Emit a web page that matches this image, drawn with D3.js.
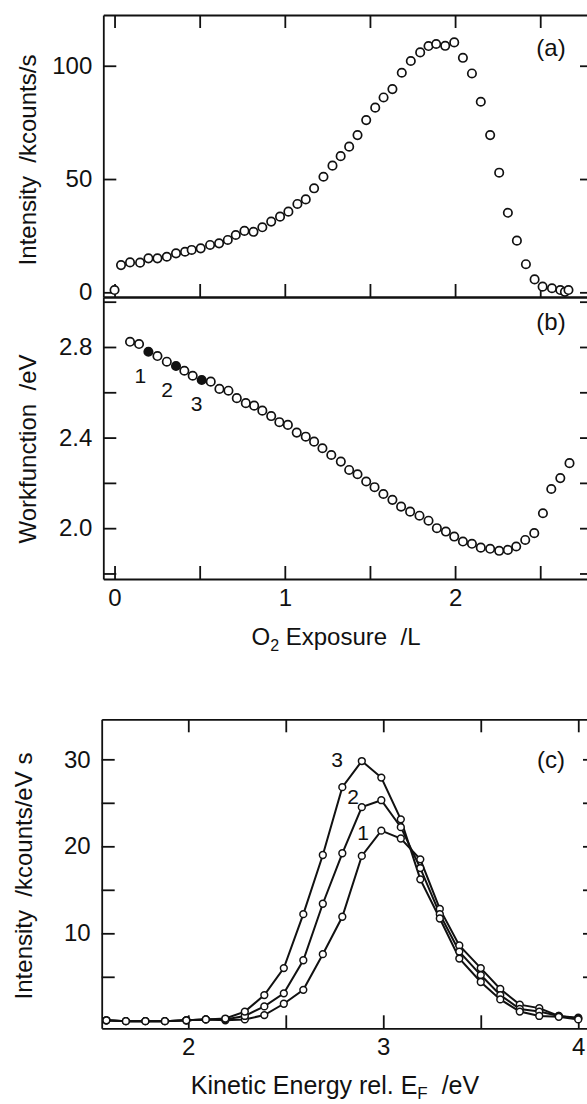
<!DOCTYPE html>
<html>
<head>
<meta charset="utf-8">
<script src="https://cdn.jsdelivr.net/npm/d3@7"></script>
<style>
    body { margin: 0; background: #fff; }
    svg { display: block; font-family: "Liberation Sans", Arial, Helvetica, sans-serif; }
    .axis path, .axis line { stroke: #111; stroke-width: 1.8; }
    .axis text { font-size: 24px; fill: #111; }
    .title { font-size: 24px; fill: #111; white-space: pre; }
    .tag { font-size: 24px; fill: #111; }
    .num { font-size: 21px; fill: #111; }
</style>
</head>
<body>
<div id="chart"></div>
<script>
// panel (a): photoemission intensity vs O2 exposure
const exposureA = [0.00, 0.038, 0.091, 0.150, 0.199, 0.252, 0.307, 0.361, 0.414, 0.453,
    0.506, 0.561, 0.614, 0.665, 0.712, 0.763, 0.816, 0.868, 0.920, 0.972,
    1.021, 1.074, 1.123, 1.172, 1.227, 1.280, 1.328, 1.378, 1.427, 1.478,
    1.531, 1.580, 1.632, 1.687, 1.740, 1.795, 1.844, 1.889, 1.942, 1.995,
    2.046, 2.099, 2.151, 2.206, 2.259, 2.310, 2.363, 2.416, 2.467, 2.514,
    2.569, 2.618, 2.645, 2.666];
const intensityA = [1.0, 12.0, 13.2, 13.1, 15.0, 15.0, 15.7, 17.2, 17.9, 18.7,
    19.4, 20.9, 21.6, 23.1, 25.3, 27.1, 26.7, 28.7, 31.2, 33.4,
    35.6, 39.0, 41.0, 45.9, 51.0, 55.9, 60.1, 64.3, 69.4, 76.0,
    81.5, 86.0, 89.7, 96.9, 102.1, 105.9, 108.7, 109.6, 108.8, 110.3,
    103.5, 96.6, 84.1, 69.4, 52.8, 35.1, 22.8, 12.4, 5.7, 2.5,
    1.8, 1.0, 0.2, 1.0];

// panel (b): workfunction vs O2 exposure
const exposureB = [0.091, 0.144, 0.199, 0.252, 0.307, 0.361, 0.410, 0.459, 0.512, 0.565,
    0.616, 0.669, 0.718, 0.771, 0.820, 0.868, 0.920, 0.968, 1.018, 1.070,
    1.123, 1.172, 1.221, 1.273, 1.329, 1.378, 1.427, 1.478, 1.527, 1.579,
    1.632, 1.683, 1.736, 1.791, 1.844, 1.893, 1.946, 1.995, 2.046, 2.099,
    2.151, 2.206, 2.259, 2.310, 2.359, 2.412, 2.465, 2.516, 2.565, 2.618,
    2.672];
const workfunctionB = [2.823, 2.813, 2.779, 2.760, 2.735, 2.716, 2.695, 2.673, 2.654, 2.647,
    2.615, 2.607, 2.574, 2.552, 2.541, 2.519, 2.495, 2.468, 2.456, 2.422,
    2.404, 2.382, 2.353, 2.323, 2.294, 2.257, 2.238, 2.206, 2.181, 2.151,
    2.125, 2.095, 2.073, 2.055, 2.033, 2.000, 1.985, 1.963, 1.941, 1.931,
    1.914, 1.909, 1.900, 1.904, 1.919, 1.948, 1.978, 2.066, 2.173, 2.221,
    2.287];
const markedIndex = [2, 5, 8];
const markedLabels = ["1", "2", "3"];

// panel (c): spectra taken at the marked exposures
const kineticEnergy = [1.58, 1.68, 1.78, 1.88, 1.99, 2.09, 2.19, 2.29, 2.39, 2.49,
    2.59, 2.69, 2.79, 2.89, 2.99, 3.09, 3.19, 3.29, 3.39, 3.50,
    3.60, 3.70, 3.80, 3.90, 4.00];
const spectrum1 = [0.0, -0.1, -0.1, -0.1, 0.0, 0.1, 0.0, 0.1, 0.6, 1.9,
    3.5, 7.6, 11.9, 18.9, 21.8, 20.9, 18.5, 12.8, 8.6, 6.0,
    3.6, 1.8, 1.4, 0.5, 0.3];
const spectrum2 = [0.0, -0.1, -0.1, -0.1, 0.0, 0.1, 0.1, 0.5, 1.6, 3.1,
    6.9, 13.4, 19.2, 24.5, 25.3, 22.2, 17.5, 12.2, 7.9, 5.2,
    2.9, 1.3, 1.0, 0.5, 0.2];
const spectrum3 = [0.0, -0.1, -0.1, -0.1, 0.0, 0.1, 0.2, 1.0, 2.9, 6.0,
    12.2, 19.0, 26.8, 29.8, 27.9, 23.1, 16.2, 11.7, 7.1, 4.4,
    2.4, 1.0, 0.5, 0.4, 0.1];
const spectrumLabels = ["1", "2", "3"];

const svg = d3.select("#chart").append("svg")
    .attr("width", 587)
    .attr("height", 1104);

const TICK = 13;

// draws the four sides of a panel with inward ticks
function frame(x, y, opt) {
    let [x0, x1] = x.range();
    let [y0, y1] = y.range(); // y0 bottom, y1 top

    let top = d3.axisTop(x).tickValues(opt.topTicks || []).tickSize(-TICK).tickSizeOuter(0).tickFormat("");
    svg.append("g").attr("class", "axis")
        .attr("transform", "translate(0," + y1 + ")").call(top);

    let bottom = d3.axisBottom(x).tickValues(opt.bottomTicks || []).tickSize(-TICK).tickSizeOuter(0)
        .tickPadding(10)
        .tickFormat(d => (opt.bottomLabels || []).includes(d) ? d : "");
    svg.append("g").attr("class", "axis")
        .attr("transform", "translate(0," + y0 + ")").call(bottom);

    let left = d3.axisLeft(y).tickValues(opt.leftTicks).tickSize(-TICK).tickSizeOuter(0)
        .tickPadding(11)
        .tickFormat(d => opt.leftLabels.some(v => Math.abs(v - d) < 1e-6) ? opt.fmt(d) : "");
    svg.append("g").attr("class", "axis")
        .attr("transform", "translate(" + x0 + ",0)").call(left);

    let right = d3.axisRight(y).tickValues(opt.leftTicks).tickSize(-TICK).tickSizeOuter(0).tickFormat("");
    svg.append("g").attr("class", "axis")
        .attr("transform", "translate(" + x1 + ",0)").call(right);
}

// ---- panel (a)
let xA = d3.scaleLinear().domain([-0.066, 2.81]).range([103.3, 593]);
let yA = d3.scaleLinear().domain([-2.07, 122.4]).range([297, 15]);

frame(xA, yA, {
    topTicks: [0, 0.5, 1, 1.5, 2, 2.5],
    bottomTicks: [0, 0.5, 1, 1.5, 2, 2.5],
    leftTicks: [0, 50, 100],
    leftLabels: [0, 50, 100],
    fmt: d => d
});

svg.append("g").selectAll("circle")
    .data(exposureA.map((e, i) => [e, intensityA[i]]))
    .join("circle")
    .attr("cx", d => xA(d[0]))
    .attr("cy", d => yA(d[1]))
    .attr("r", 4.2)
    .attr("fill", "#fff")
    .attr("stroke", "#111")
    .attr("stroke-width", 1.7);

svg.append("text").attr("class", "tag")
    .attr("x", 551).attr("y", 56).attr("text-anchor", "middle").text("(a)");

svg.append("text").attr("class", "title")
    .attr("transform", "translate(36,160) rotate(-90)")
    .attr("text-anchor", "middle")
    .text("Intensity  /kcounts/s");

// ---- panel (b)
let xB = xA;
let yB = d3.scaleLinear().domain([1.7756, 3.0207]).range([579, 297]);

frame(xB, yB, {
    topTicks: [],
    bottomTicks: [0, 0.5, 1, 1.5, 2, 2.5],
    bottomLabels: [0, 1, 2],
    leftTicks: [1.8, 2.0, 2.2, 2.4, 2.6, 2.8, 3.0],
    leftLabels: [2.0, 2.4, 2.8],
    fmt: d => d.toFixed(1)
});

svg.append("g").selectAll("circle")
    .data(exposureB.map((e, i) => [e, workfunctionB[i], markedIndex.includes(i)]))
    .join("circle")
    .attr("cx", d => xB(d[0]))
    .attr("cy", d => yB(d[1]))
    .attr("r", 4.2)
    .attr("fill", d => d[2] ? "#111" : "#fff")
    .attr("stroke", "#111")
    .attr("stroke-width", 1.7);

svg.append("g").selectAll("text")
    .data(markedIndex)
    .join("text")
    .attr("class", "num")
    .attr("x", (i, k) => xB(exposureB[i]) - [8, 9, 5][k])
    .attr("y", i => yB(workfunctionB[i]) + 31)
    .attr("text-anchor", "middle")
    .text((i, k) => markedLabels[k]);

svg.append("text").attr("class", "tag")
    .attr("x", 551).attr("y", 330).attr("text-anchor", "middle").text("(b)");

svg.append("text").attr("class", "title")
    .attr("transform", "translate(36,449) rotate(-90)")
    .attr("text-anchor", "middle")
    .text("Workfunction  /eV");

let xtB = svg.append("text").attr("class", "title")
    .attr("x", 336).attr("y", 645).attr("text-anchor", "middle");
xtB.append("tspan").text("O");
xtB.append("tspan").attr("font-size", "16px").attr("dy", 6).text("2");
xtB.append("tspan").attr("dy", -6).text("\u00A0Exposure\u00A0 /L");

// ---- panel (c)
let xC = d3.scaleLinear().domain([1.556, 4.091]).range([101.7, 596]);
let yC = d3.scaleLinear().domain([-0.92, 34.6]).range([1028.3, 719.3]);

frame(xC, yC, {
    topTicks: [2, 2.5, 3, 3.5, 4],
    bottomTicks: [2, 2.5, 3, 3.5, 4],
    bottomLabels: [2, 3, 4],
    leftTicks: [5, 10, 15, 20, 25, 30],
    leftLabels: [10, 20, 30],
    fmt: d => d
});

let spectra = [spectrum1, spectrum2, spectrum3];
let line = d3.line()
    .x(d => xC(d[0]))
    .y(d => yC(d[1]));

spectra.forEach(s => {
    let pts = kineticEnergy.map((e, i) => [e, s[i]]);
    svg.append("path")
        .attr("d", line(pts))
        .attr("fill", "none")
        .attr("stroke", "#111")
        .attr("stroke-width", 2);
});
spectra.forEach(s => {
    svg.append("g").selectAll("circle")
        .data(kineticEnergy.map((e, i) => [e, s[i]]))
        .join("circle")
        .attr("cx", d => xC(d[0]))
        .attr("cy", d => yC(d[1]))
        .attr("r", 3.4)
        .attr("fill", "#fff")
        .attr("stroke", "#111")
        .attr("stroke-width", 1.5);
});

// curve numbers next to the peaks
let peakLabelPos = [[363, 840], [353, 804], [337, 767]];
svg.append("g").selectAll("text")
    .data(spectrumLabels)
    .join("text")
    .attr("class", "num")
    .attr("x", (d, i) => peakLabelPos[i][0])
    .attr("y", (d, i) => peakLabelPos[i][1])
    .attr("text-anchor", "middle")
    .text(d => d);

svg.append("text").attr("class", "tag")
    .attr("x", 551).attr("y", 768).attr("text-anchor", "middle").text("(c)");

svg.append("text").attr("class", "title")
    .attr("transform", "translate(32,876) rotate(-90)")
    .attr("text-anchor", "middle")
    .text("Intensity  /kcounts/eV s");

let xtC = svg.append("text").attr("class", "title")
    .attr("x", 335).attr("y", 1094).attr("text-anchor", "middle")
    .style("font-size", "25px");
xtC.append("tspan").text("Kinetic Energy rel. E");
xtC.append("tspan").attr("font-size", "17px").attr("dy", 5).text("F");
xtC.append("tspan").attr("dy", -5).text("\u00A0\u00A0/eV");
</script>
</body>
</html>
